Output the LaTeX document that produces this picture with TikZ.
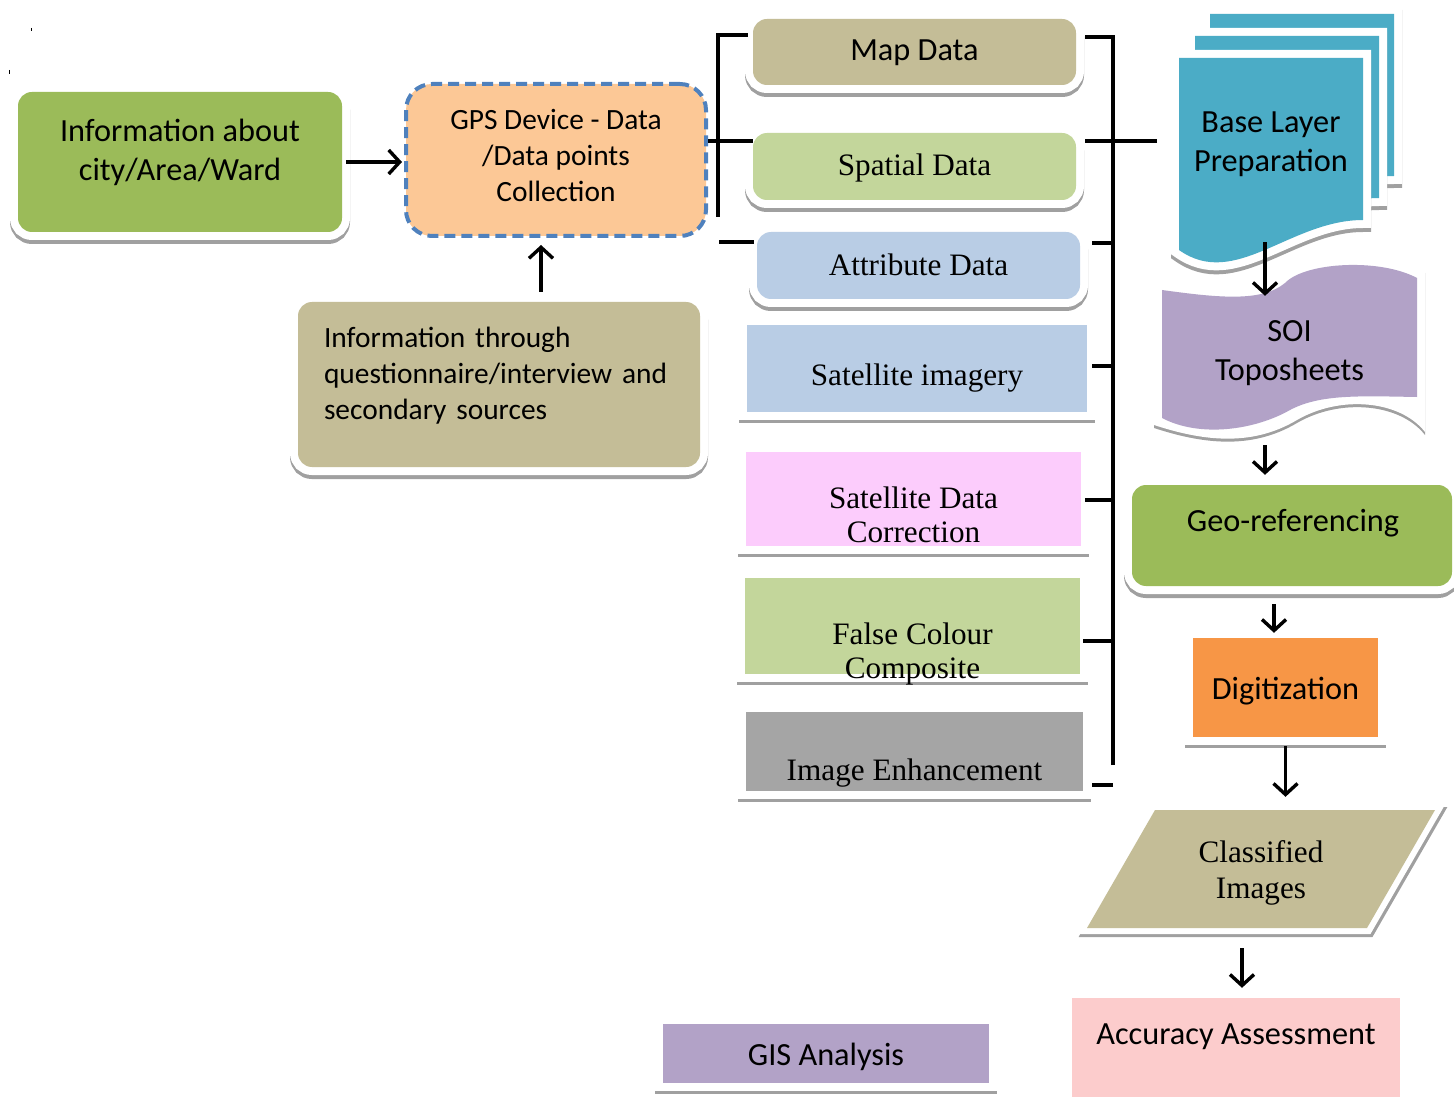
\documentclass[tikz,border=0pt]{standalone}
\usepackage{fontspec}
\setmainfont{Liberation Serif}
\newfontfamily\calfont{Carlito}
\usetikzlibrary{arrows.meta}

% fill colours
\definecolor{oliveGreen}{HTML}{9BBB59}
\definecolor{khaki}{HTML}{C4BD97}
\definecolor{paleGreen}{HTML}{C3D69B}
\definecolor{paleBlue}{HTML}{B9CDE5}
\definecolor{palePink}{RGB}{252,204,252}
\definecolor{midGray}{HTML}{A5A5A5}
\definecolor{tealBlue}{HTML}{4BACC6}
\definecolor{lavender}{HTML}{B2A2C7}
\definecolor{tangerine}{HTML}{F79646}
\definecolor{peach}{RGB}{252,200,150}
\definecolor{rosePink}{RGB}{252,204,204}
\definecolor{dashBlue}{HTML}{4F81BD}
\definecolor{shadeGray}{RGB}{160,160,160}

\tikzset{
  % white frame with a grey edge underneath
  rim/.style={
    preaction={draw=shadeGray, line width=16pt, transform canvas={yshift=-#1}},
    preaction={draw=white, line width=16pt}},
  rim/.default=4pt,
  card/.style={rectangle, rounded corners=14pt, fill=#1, rim, inner sep=0pt},
  plate/.style={rectangle, fill=#1, rim=3pt, inner sep=0pt},
  sanslbl/.style={font=\calfont\fontsize{32.3}{39}\selectfont, align=center},
  sanssmall/.style={font=\calfont\fontsize{29.4}{36}\selectfont, align=center},
  seriflbl/.style={font=\fontsize{31.2}{34.5}\selectfont, align=center},
  conn/.style={line width=3.5pt},
  arr/.style={conn, -{Straight Barb[length=11pt, width=24pt, line width=3.4pt]}},
}

\begin{document}
\begin{tikzpicture}[x=1pt, y=-1pt]
\useasboundingbox (0,0) rectangle (1454,1099);

% stray marks near the top left corner
\draw[line width=1pt] (31.5,28) -- (31.5,31);
\draw[line width=1pt] (9.5,70) -- (9.5,74);

% ---------- left column ----------
\node[card=oliveGreen, minimum width=324pt, minimum height=140pt,
  label={[sanslbl, yshift=10pt]center:Information about\\city/Area/Ward}] (info) at (180,162) {};

\node[rectangle, rounded corners=26pt, fill=peach, draw=dashBlue, line width=4pt,
  dash pattern=on 11pt off 6pt, minimum width=300pt, minimum height=152pt,
  label={[sanssmall, yshift=5pt]center:GPS Device - Data\\/Data points\\Collection}] (gps) at (556,160) {};

\node[card=khaki, minimum width=402pt, minimum height=165pt,
  label={[sanssmall, text width=350pt, align=left, yshift=9pt]center:Information through\\questionnaire/interview and\\secondary sources}] (quest) at (499,384.5) {};

% ---------- data sources ----------
\node[card=khaki, minimum width=323pt, minimum height=66pt,
  label={[sanslbl, yshift=-1pt]center:Map Data}] (map) at (914.5,52) {};
\node[card=paleGreen, minimum width=323pt, minimum height=67pt,
  label={[seriflbl, yshift=-1pt]center:Spatial Data}] (spatial) at (914.5,166.5) {};
\node[card=paleBlue, minimum width=323pt, minimum height=67pt,
  label={[seriflbl, yshift=1pt]center:Attribute Data}] (attr) at (918.5,265.5) {};
\node[plate=paleBlue, minimum width=340pt, minimum height=87pt,
  label={[seriflbl, yshift=-10pt]center:Satellite imagery}] (satimg) at (917,368.5) {};
\node[plate=palePink, minimum width=335pt, minimum height=94pt,
  label={[seriflbl, yshift=-16pt]center:Satellite Data\\Correction}] (corr) at (913.5,499) {};
\node[plate=paleGreen, minimum width=335pt, minimum height=96pt,
  label={[seriflbl, yshift=-28pt]center:False Colour\\Composite}] (fcc) at (912.5,626) {};
\node[plate=midGray, minimum width=337pt, minimum height=79pt,
  label={[seriflbl, yshift=-22pt]center:Image Enhancement}] (ie) at (914.5,751.5) {};

\node[plate=lavender, minimum width=326pt, minimum height=59pt,
  label={[sanslbl, yshift=-3pt]center:GIS Analysis}] (gis) at (826,1053.5) {};

% ---------- right column ----------
% stacked sheets with a wavy lower edge
\foreach \dx/\dy in {31/-44, 16/-22, 0/0} {
  \path[rim, fill=tealBlue, shift={(\dx,\dy)}]
    (1179,58) -- (1363,58) -- (1363,220)
    .. controls (1290,220) and (1235,290) .. (1179,250) -- cycle;
}
\node[minimum width=184pt, minimum height=184pt, inner sep=0pt,
  label={[sanslbl, yshift=6pt]center:Base Layer\\Preparation}] (base) at (1271,150) {};

% punched tape: white frame, then the filled band
\path[fill=white, preaction={fill=shadeGray, transform canvas={yshift=-3pt}}]
  (1154,282) .. controls (1215,290) and (1262,294) .. (1285,275)
  .. controls (1305,254) and (1385,250) .. (1425,270)
  -- (1425,432) .. controls (1400,400) and (1340,395) .. (1297,420)
  .. controls (1250,448) and (1200,440) .. (1154,425) -- cycle;
\path[fill=lavender]
  (1162,290) .. controls (1220,298) and (1262,302) .. (1285,283)
  .. controls (1305,262) and (1380,258) .. (1417,278)
  -- (1417,397) .. controls (1360,396) and (1320,394) .. (1290,410)
  .. controls (1255,430) and (1200,438) .. (1162,418) -- cycle;
\node[minimum width=255pt, minimum height=114pt, inner sep=0pt,
  label={[sanslbl]center:SOI\\Toposheets}] (soi) at (1289.5,353) {};

\node[card=oliveGreen, minimum width=320pt, minimum height=101pt,
  label={[sanslbl, xshift=1pt, yshift=12.5pt]center:Geo-referencing}] (geo) at (1292,535.5) {};

\node[plate=tangerine, minimum width=185pt, minimum height=99pt,
  label={[sanslbl, yshift=-4pt]center:Digitization}] (digit) at (1285.5,687.5) {};

% slanted data box
\path[fill=khaki,
  preaction={draw=shadeGray, line width=12pt, transform canvas={xshift=2pt, yshift=-3pt}},
  preaction={draw=white, line width=12pt}]
  (1155,810) -- (1435,810) -- (1367,928) -- (1087,928) -- cycle;
\node[seriflbl, font=\fontsize{31.2}{36}\selectfont, minimum width=280pt, minimum height=118pt, inner sep=0pt] (cls) at (1261,873) {Classified\\Images};

\node[plate=rosePink, minimum width=328pt, minimum height=99pt,
  label={[sanslbl, yshift=11pt]center:Accuracy Assessment}] (acc) at (1236,1047.5) {};

% ---------- connectors ----------
\draw[arr, shorten >=2pt] ([xshift=4pt]info.east) -- (gps.west |- info.east);
\draw[arr, shorten >=7pt] ([xshift=42pt, yshift=10pt]quest.north) coordinate (qg) -- (qg |- gps.south);

% left bracket
\coordinate (lbt) at (718,35);
\coordinate (lbb) at (718,217);
\coordinate (lbm) at (718,141);
\coordinate (lba) at (719,242);
\draw[conn, shorten >=5pt] (lbb) -- (lbt) -- (lbt -| map.west);
\draw[conn] (lbm -| gps.east) -- (lbm -| spatial.west);
\draw[conn, shorten >=3pt] (lba) -- (lba -| attr.west);

% right bracket
\coordinate (rbt) at (1113,37);
\coordinate (rbb) at (1113,765);
\coordinate (rbs) at (1157,141);
\coordinate (rba) at (1113,243);
\coordinate (rbi) at (1113,366);
\coordinate (rbc) at (1113,500);
\coordinate (rbf) at (1113,641);
\coordinate (rbe) at (1113,785);
\draw[conn, shorten >=9pt] (rbb) -- (rbt) -- (rbt -| map.east);
\draw[conn, shorten >=9pt] (rbs) -- (rbs -| spatial.east);
\draw[conn, shorten >=12pt] (rba) -- (rba -| attr.east);
\draw[conn, shorten >=5pt] (rbi) -- (rbi -| satimg.east);
\draw[conn, shorten >=4pt] (rbc) -- (rbc -| corr.east);
\draw[conn, shorten >=3pt] (rbf) -- (rbf -| fcc.east);
\draw[conn, shorten >=9pt] (rbe) -- (rbe -| ie.east);

% processing chain
\draw[arr] ([xshift=-6pt]base.south) -- ([xshift=-6pt]base.south |- soi.north);
\draw[arr, shorten >=10pt] ([xshift=-24.5pt, yshift=-35pt]soi.south) coordinate (sg) -- (sg |- geo.north);
\draw[arr, shorten >=5pt] ([xshift=-18pt, yshift=-18pt]geo.south) coordinate (gd) -- (gd |- digit.north);
\draw[arr, shorten >=17pt] ([yshift=-9pt]digit.south) coordinate (dc) -- (dc |- cls.north);
\draw[arr, shorten >=10pt] ([xshift=-19pt, yshift=-16pt]cls.south) coordinate (ca) -- (ca |- acc.north);
\end{tikzpicture}
\end{document}
